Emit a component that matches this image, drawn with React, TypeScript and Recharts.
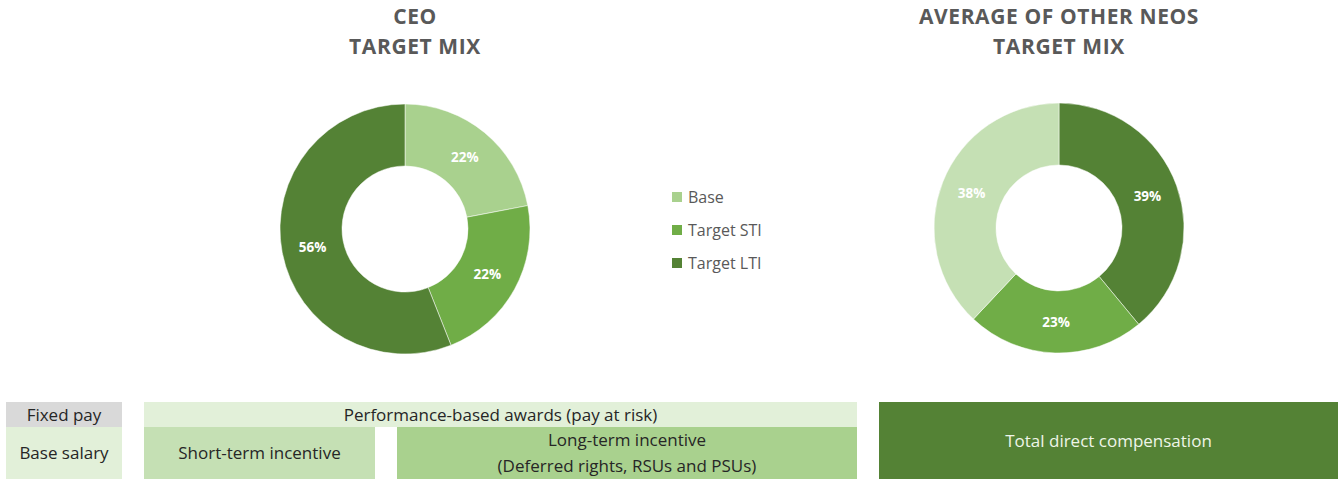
import { PieChart, Pie, Cell, Legend } from 'recharts'

const categories = ['Base', 'Target STI', 'Target LTI']
const ceoMix = [22, 22, 56]
const neoMix = [38, 23, 39]
const ceoColors = ['#a9d18e', '#70ad47', '#548235']
const neoColors = ['#c5e0b4', '#70ad47', '#548235']
const legendColors = ['#a9d18e', '#70ad47', '#548235']

// CEO pie runs Base -> STI -> LTI clockwise from 12 o'clock, NEO pie runs LTI first
const ceoData = categories.map((name, i) => ({ name, value: ceoMix[i], color: ceoColors[i] }))
const neoData = [2, 1, 0].map(i => ({ name: categories[i], value: neoMix[i], color: neoColors[i] }))

const RADIAN = Math.PI / 180
const FONT = '"Open Sans", "Noto Sans", sans-serif'

const renderLabel = (p: any) => {
  const r = p.innerRadius + (p.outerRadius - p.innerRadius) / 2
  const x = p.cx + r * Math.cos(-p.midAngle * RADIAN)
  const y = p.cy + r * Math.sin(-p.midAngle * RADIAN)
  return (
    <text x={x} y={y} fill="#ffffff" textAnchor="middle" dominantBaseline="central"
      fontSize={13.5} fontWeight={700} fontFamily={FONT}>
      {p.value}%
    </text>
  )
}

const LegendContent = () => (
  <div style={{ fontFamily: FONT }}>
    {categories.map((c, i) => (
      <div key={c} style={{ display: 'flex', alignItems: 'center', height: 33 }}>
        <span style={{ width: 10, height: 10, background: legendColors[i], marginRight: 6 }} />
        <span style={{ fontSize: 16, color: '#595959' }}>{c}</span>
      </div>
    ))}
  </div>
)

const box = (left: number, top: number, width: number, height: number, bg: string): React.CSSProperties => ({
  position: 'absolute', left, top, width, height, background: bg,
  display: 'flex', flexDirection: 'column', alignItems: 'center', justifyContent: 'center',
  fontSize: 17, color: '#262626', lineHeight: '26px', textAlign: 'center',
})

const titleStyle = (cx: number): React.CSSProperties => ({
  position: 'absolute', left: cx - 200, width: 400, top: 1, textAlign: 'center',
  fontSize: 21, fontWeight: 700, color: '#595959', lineHeight: '30px', letterSpacing: 0.6,
})

export default function App() {
  return (
    <div style={{ position: 'absolute', left: 0, top: 0, width: 1338, height: 479, background: '#fff', fontFamily: FONT, overflow: 'hidden' }}>
      <div style={titleStyle(415)}>CEO<br />TARGET MIX</div>
      <div style={titleStyle(1059)}>AVERAGE OF OTHER NEOS<br />TARGET MIX</div>

      <div style={{ position: 'absolute', left: 0, top: 0 }}>
        <PieChart width={1338} height={390} margin={{ top: 0, right: 0, bottom: 0, left: 0 }}>
          <Pie data={ceoData} dataKey="value" nameKey="name" cx={405} cy={229}
            innerRadius={63} outerRadius={125} startAngle={90} endAngle={-270}
            stroke="#ffffff" strokeWidth={0.5} label={renderLabel} labelLine={false}
            isAnimationActive={false}>
            {ceoData.map(d => <Cell key={d.name} fill={d.color} />)}
          </Pie>
          <Pie data={neoData} dataKey="value" nameKey="name" cx={1059} cy={228}
            innerRadius={63} outerRadius={125} startAngle={90} endAngle={-270}
            stroke="#ffffff" strokeWidth={0.5} label={renderLabel} labelLine={false}
            isAnimationActive={false}>
            {neoData.map(d => <Cell key={d.name} fill={d.color} />)}
          </Pie>
          <Legend content={<LegendContent />}
            wrapperStyle={{ position: 'absolute', left: 672, top: 180, width: 120 }} />
        </PieChart>
      </div>

      <div style={box(6, 402, 116, 25, '#d9d9d9')}>Fixed pay</div>
      <div style={box(6, 427, 116, 52, '#e2f0d9')}>Base salary</div>
      <div style={box(144, 402, 713, 25, '#e2f0d9')}>Performance-based awards (pay at risk)</div>
      <div style={box(144, 427, 231, 52, '#c5e0b4')}>Short-term incentive</div>
      <div style={box(397, 427, 460, 52, '#a9d18e')}>
        <div>Long-term incentive</div>
        <div>(Deferred rights, RSUs and PSUs)</div>
      </div>
      <div style={{ ...box(879, 402, 459, 77, '#548235'), color: '#eef5e8' }}>Total direct compensation</div>
    </div>
  )
}
